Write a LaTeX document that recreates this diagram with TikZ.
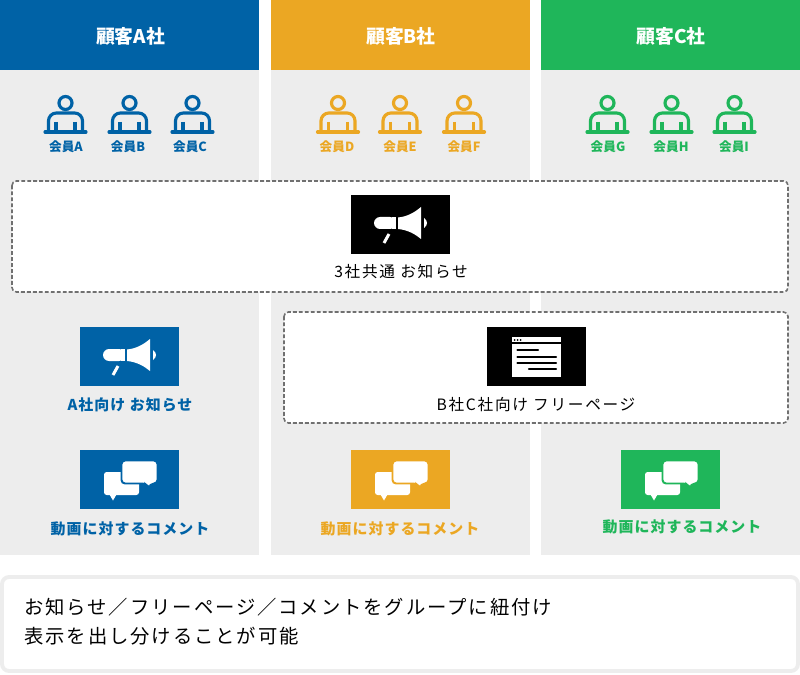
\documentclass[tikz,border=0pt]{standalone}
\usepackage{fontspec}
\setmainfont{Noto Sans CJK JP}
\usetikzlibrary{positioning}
\definecolor{ablue}{HTML}{0062A6}
\definecolor{borange}{HTML}{EBA723}
\definecolor{cgreen}{HTML}{1FB65A}
\definecolor{panelgray}{HTML}{EDEDED}
\definecolor{dashgray}{HTML}{707070}
\begin{document}
\begin{tikzpicture}[x=0.02cm,y=-0.02cm,
  head/.style={anchor=center,text=white,font=\fontsize{10.7}{12}\selectfont\bfseries},
  memb/.style={anchor=center,font=\fontsize{7.2}{8}\selectfont\bfseries},
  lab/.style={anchor=center,font=\fontsize{8.5}{10}\selectfont\bfseries\addfontfeature{LetterSpace=7}},
  blk/.style={anchor=center,text=black,font=\fontsize{8.9}{10}\selectfont\addfontfeature{LetterSpace=11}},
  note/.style={anchor=west,inner sep=0,text=black,font=\fontsize{11}{13}\selectfont\addfontfeature{LetterSpace=10}},
  dashbox/.style={draw=dashgray,fill=white,line width=0.9pt,dash pattern=on 2.2pt off 1.2pt,rounded corners=2.5pt},
  pics/memb/.style={code={
    \draw[#1,line width=1.8pt] (0,0) circle (6.5);
    \draw[#1,line width=1.8pt,rounded corners=4.5pt] (-17,29) -- (-17,10) -- (17,10) -- (17,29);
    \draw[#1,line width=1.8pt,line cap=round] (-20.5,29) -- (20.5,29);
    \draw[#1,line width=1.8pt] (-9.5,19) -- (-9.5,29) (9.5,19) -- (9.5,29);
  }},
  pics/horn/.style={code={
    \fill[white,rounded corners=3.5pt] (-4.5,-7.5) -- (-26.5,-7.5) -- (-26.5,4.5) -- (-4.5,4.5) -- cycle;
    \fill[white] (-4.5,-7.5) rectangle (-9,4.5);
    \fill[white] (-2.5,-7) .. controls (8,-8) and (15,-13) .. (20.5,-17.5) -- (20.5,14.5) .. controls (15,10) and (8,5.5) .. (-2.5,4.5) -- cycle;
    \fill[white] (23.5,-6.5) .. controls (27.5,-4) and (27.5,1) .. (23.5,3.5) -- cycle;
    \draw[white,line width=1.7pt] (-11.5,9.5) -- (-16.5,18.5);
  }},
  pics/webpage/.style={code={
    \fill[white] (-24.5,-19.5) rectangle (24.5,20.5);
    \draw[black,line width=0.6pt] (-24.5,-13.5) -- (24.5,-13.5);
    \foreach \x in {-22,-19,-16} \fill[black] (\x,-16.5) circle (1);
    \draw[black,line width=1.4pt,line cap=round] (-19,-6.5) -- (1.5,-6.5);
    \draw[black,line width=1.4pt,line cap=round] (-19,0.5) -- (19.5,0.5);
    \draw[black,line width=1.4pt,line cap=round] (-19,6.5) -- (19.5,6.5);
    \draw[black,line width=1.4pt,line cap=round] (-7.5,12.5) -- (19.5,12.5);
  }},
  pics/talk/.style={code={
    \fill[white,rounded corners=1.5pt] (-25.5,-7.5) rectangle (9.5,15.5);
    \fill[white] (-20,15) -- (-16.5,21) -- (-13,15) -- cycle;
    \draw[#1,fill=white,line width=1.1pt,rounded corners=2pt] (-8,-19) -- (28,-19) -- (28,4) -- (22.5,4) -- (19,9) -- (16.5,4) -- (-8,4) -- cycle;
  }}]
\useasboundingbox (0,0) rectangle (800,675);
% panels
\fill[panelgray] (0,70) rectangle (259,555);
\fill[panelgray] (271,70) rectangle (530,555);
\fill[panelgray] (541,70) rectangle (800,555);
\fill[ablue] (0,0) rectangle (259,70);
\fill[borange] (271,0) rectangle (530,70);
\fill[cgreen] (541,0) rectangle (800,70);
\node[head] (heada) at (130.5,36.5) {顧客A社};
\node[head] (headb) at (401,36.5) {顧客B社};
\node[head] (headc) at (671,36.5) {顧客C社};
% members
\foreach \x/\lx/\c/\t/\n in {65.5/66/ablue/A/ma,129.5/128/ablue/B/mb,192.5/190/ablue/C/mc,338/337/borange/D/md,400/400/borange/E/me,464/464/borange/F/mf,607.5/608/cgreen/G/mg,671.5/671/cgreen/H/mh,734.5/734/cgreen/I/mi} {
  \pic at (\x,103) {memb=\c};
  \node[memb,text=\c] (\n) at (\lx,146.5) {会員\t};
}
% common notice
\draw[dashbox] (12,181) rectangle (788,292);
\fill[black] (351,195) rectangle (450,254);
\pic at (400.5,224.5) {horn};
\node[blk] (alltext) at (401,272) {3社共通 お知らせ};
% A notice
\fill[ablue] (80,327) rectangle (179,386);
\pic at (129.5,356.5) {horn};
\node[lab,text=ablue] (atext) at (130,405) {A社向け お知らせ};
% free page
\draw[dashbox] (284,312) rectangle (788,423);
\fill[black] (487,327) rectangle (586,386);
\pic at (536.5,356.5) {webpage};
\node[blk] (bctext) at (536,405) {B社C社向け フリーページ};
% comments
\foreach \x/\lx/\c/\ty/\n in {129.5/130/ablue/529/ca,400.5/400/borange/529/cb,670.5/682/cgreen/527/cc} {
  \fill[\c] (\x-49.5,450) rectangle (\x+49.5,509);
  \pic at (\x,479.5) {talk=\c};
  \node[lab,text=\c] (\n) at (\lx,\ty) {動画に対するコメント};
}
% bottom note
\draw[panelgray,fill=white,line width=2.2pt,rounded corners=4pt] (2,577) rectangle (798,671);
\node[note] (noteone) at (24,607.5) {お知らせ／フリーページ／コメントをグループに紐付け};
\node[note] (notetwo) at (24,636.5) {表示を出し分けることが可能};
\end{tikzpicture}
\end{document}
